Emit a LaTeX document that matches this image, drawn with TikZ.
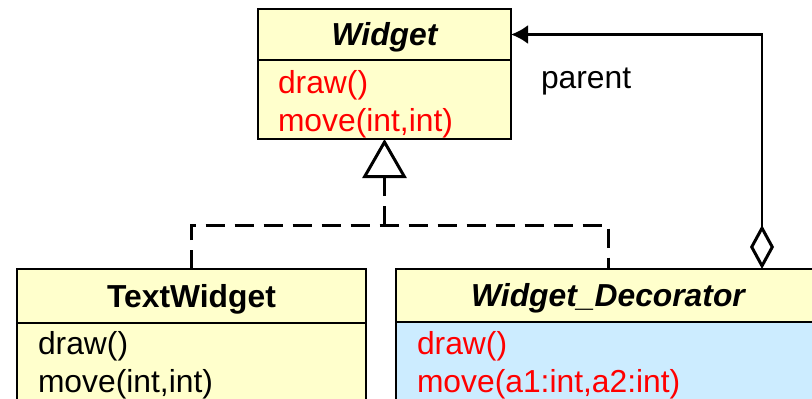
\documentclass[tikz,border=0pt]{standalone}
\usepackage{fontspec}
\setmainfont{Liberation Sans}
\usetikzlibrary{arrows.meta}
\definecolor{umlyellow}{HTML}{FFFFCC}
\definecolor{umlblue}{HTML}{CCECFF}
\definecolor{umlred}{HTML}{FF0000}
\begin{document}
\begin{tikzpicture}[x=1pt,y=-1pt,
  every node/.style={font=\fontsize{31.8}{38}\selectfont, inner sep=0pt, outer sep=0pt},
  box/.style={draw=black, line width=2.5pt, anchor=north west},
  hdr/.style={box, fill=umlyellow, text height=23pt, text depth=1pt},
  bodyy/.style={box, fill=umlyellow},
  bodyb/.style={box, fill=umlblue},
  op/.style={anchor=base west},
  gen/.style={draw=black, line width=3pt, dash pattern=on 19pt off 10pt},
  agg/.style={draw=black, line width=2.5pt}
]
\clip (0,0) rectangle (812,399);
% Widget
\node[hdr, minimum width=253pt, minimum height=51pt] (wh) at (258,9) {\bfseries\itshape Widget};
\node[bodyy, minimum width=253pt, minimum height=79pt] (wb) at (wh.south west) {};
\node[op, text=umlred] (w1) at (278,93) {draw()};
\node[op, text=umlred] (w2) at (278,131) {move(int,int)};
% TextWidget
\node[hdr, minimum width=349pt, minimum height=54pt] (th) at (17,269) {\bfseries TextWidget};
\node[bodyy, minimum width=349pt, minimum height=120pt] (tb) at (th.south west) {};
\node[op] (t1) at (38,354) {draw()};
\node[op] (t2) at (38,392) {move(int,int)};
% Widget_Decorator
\node[hdr, minimum width=424pt, minimum height=53pt] (dh) at (396,269) {\bfseries\itshape Widget\_Decorator};
\node[bodyb, minimum width=424pt, minimum height=120pt] (db) at (dh.south west) {};
\node[op, text=umlred] (d1) at (417,354) {draw()};
\node[op, text=umlred] (d2) at (417,392) {move(a1:int,a2:int)};
% generalization
\coordinate (jn) at (384.5,225);
\draw[gen] (th.north) |- (jn) -| (dh.north);
\draw[gen, -{Triangle[open, length=39pt, width=44pt, line width=3pt]}] (jn) -- (wb.south);
% aggregation
\coordinate (dd) at (762,269);
\draw[agg, {Diamond[open, length=44pt, width=24pt, line width=3pt]}-{Latex[length=17pt, width=19pt]}] (dd) |- (wh.east);
\node[anchor=base west] (par) at (541,88) {parent};
\end{tikzpicture}
\end{document}
